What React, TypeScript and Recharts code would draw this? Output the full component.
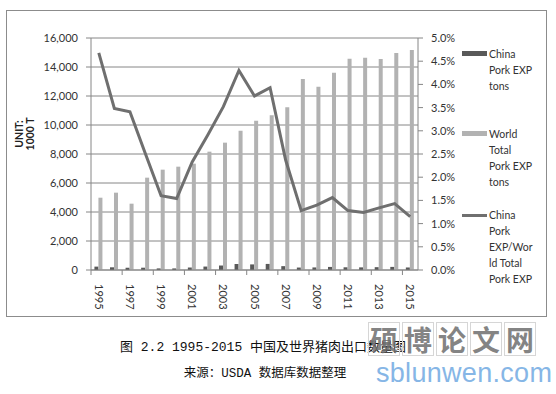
import React from 'react';
import { ComposedChart, Bar, Line, XAxis, YAxis, CartesianGrid } from 'recharts';

const years = ['1995','1996','1997','1998','1999','2000','2001','2002','2003','2004','2005','2006','2007','2008','2009','2010','2011','2012','2013','2014','2015'];
const chinaExp = [233,186,156,159,111,110,171,237,309,413,386,419,266,169,177,212,187,182,195,214,174];
const worldExp = [4986,5333,4574,6368,6920,7126,7333,8161,8782,9609,10299,10667,11218,13172,12644,13609,14575,14644,14552,14966,15172];
const chinaShare = [4.68,3.48,3.41,2.50,1.60,1.54,2.33,2.91,3.52,4.30,3.75,3.93,2.37,1.28,1.40,1.56,1.28,1.24,1.34,1.43,1.15];

const leftTicks = [0,2000,4000,6000,8000,10000,12000,14000,16000];
const rightTicks = [0,0.5,1,1.5,2,2.5,3,3.5,4,4.5,5];

const seriesNames = ['China Pork EXP tons', 'World Total Pork EXP tons', 'China Pork EXP/World Total Pork EXP'];
const legendLines = [
  ['China', 'Pork EXP', 'tons'],
  ['World', 'Total', 'Pork EXP', 'tons'],
  ['China', 'Pork', 'EXP/Wor', 'ld Total', 'Pork EXP'],
];
const yLabel = ['UNIT:', '1000 T'];
const caption1 = '图 2.2 1995-2015 中国及世界猪肉出口数量图';
const caption2 = '来源：USDA 数据库数据整理';
const watermark1 = ['硕', '博', '论', '文', '网'];
const watermark2 = 'sblunwen.com';

const data = years.map((y, i) => ({ year: y, china: chinaExp[i], world: worldExp[i], share: chinaShare[i] }));

const W = 556;
const LEFT_W = 91;
const RIGHT_W = 138;
const PLOT_W = W - LEFT_W - RIGHT_W;
const HALF_BAND = PLOT_W / years.length / 2;

const C_CHINA = '#595959';
const C_WORLD = '#b2b2b2';
const C_LINE = '#6f6f6f';
const C_AXIS = '#868686';
const FONT = 'Lato, "Liberation Sans", sans-serif';

const XTick = (props: any) => {
  const { x, y, payload } = props;
  const idx = payload && payload.index !== undefined ? payload.index : props.index;
  if (idx % 2 !== 0) return <g />;
  return (
    <g>
      <line x1={x - HALF_BAND} x2={x - HALF_BAND} y1={y} y2={y + 5} stroke={C_AXIS} />
      <text
        transform={`translate(${x},${y + 14}) rotate(90)`}
        dy="0.35em"
        textAnchor="start"
        fontSize={11}
        fontFamily={FONT}
        fill="#333"
      >
        {payload.value}
      </text>
    </g>
  );
};

export default function App() {
  return (
    <div style={{ position: 'absolute', left: 0, top: 0, width: 556, height: 394, background: '#fff', overflow: 'hidden' }}>
      <div style={{ position: 'absolute', left: 6, top: 10, width: 539, height: 305, border: '1px solid #8c8c8c' }} />
      <div style={{ position: 'absolute', left: 0, top: 0 }}>
        <ComposedChart
          width={556}
          height={320}
          data={data}
          margin={{ top: 38, right: 0, bottom: 0, left: 0 }}
          barCategoryGap="22%"
          barGap={0}
        >
          <CartesianGrid vertical={false} stroke={C_AXIS} yAxisId="left" />
          <XAxis
            dataKey="year"
            interval={0}
            height={50}
            tickSize={0}
            tickMargin={0}
            tick={<XTick />}
            axisLine={{ stroke: C_AXIS }}
            tickLine={false}
          />
          <YAxis
            yAxisId="left"
            width={LEFT_W}
            domain={[0, 16000]}
            ticks={leftTicks}
            tickFormatter={(v: number) => v.toLocaleString('en-US')}
            tick={{ fontSize: 11, fontFamily: FONT, fill: '#333' }}
            tickSize={5}
            tickMargin={8}
            axisLine={{ stroke: C_AXIS }}
            tickLine={{ stroke: C_AXIS }}
          />
          <YAxis
            yAxisId="right"
            orientation="right"
            width={RIGHT_W}
            domain={[0, 5]}
            ticks={rightTicks}
            tickFormatter={(v: number) => v.toFixed(1) + '%'}
            tick={{ fontSize: 11, fontFamily: FONT, fill: '#333', textAnchor: 'start' }}
            tickSize={5}
            tickMargin={8}
            axisLine={{ stroke: C_AXIS }}
            tickLine={{ stroke: C_AXIS }}
          />
          <Bar yAxisId="left" dataKey="china" name={seriesNames[0]} fill={C_CHINA} isAnimationActive={false} />
          <Bar yAxisId="left" dataKey="world" name={seriesNames[1]} fill={C_WORLD} isAnimationActive={false} />
          <Line
            yAxisId="right"
            dataKey="share"
            name={seriesNames[2]}
            type="linear"
            stroke={C_LINE}
            strokeWidth={3}
            dot={false}
            activeDot={false}
            isAnimationActive={false}
          />
        </ComposedChart>
      </div>

      {/* Y axis title */}
      <div
        style={{
          position: 'absolute', left: 25, top: 136, width: 0, height: 0,
        }}
      >
        <div
          style={{
            position: 'absolute', left: -40, top: -13, width: 80, textAlign: 'center',
            transform: 'rotate(-90deg)', fontFamily: FONT, fontWeight: 'bold', fontSize: 10.5,
            lineHeight: '11px', color: '#222',
          }}
        >
          {yLabel.map((t, i) => <div key={i}>{t}</div>)}
        </div>
      </div>

      {/* Legend */}
      {[
        { top: 46, color: C_CHINA, kind: 'bar' },
        { top: 126, color: C_WORLD, kind: 'bar' },
        { top: 207, color: C_LINE, kind: 'line' },
      ].map((it, i) => (
        <div key={i} style={{ position: 'absolute', left: 462, top: it.top, fontFamily: FONT, fontSize: 10.5, lineHeight: '16px', color: '#333' }}>
          <div
            style={{
              position: 'absolute', left: 0, width: 25,
              top: it.kind === 'bar' ? 5 : 7,
              height: it.kind === 'bar' ? 5 : 3,
              background: it.color,
            }}
          />
          <div style={{ position: 'absolute', left: 27, top: 0, whiteSpace: 'nowrap' }}>
            {legendLines[i].map((t, j) => <div key={j}>{t}</div>)}
          </div>
        </div>
      ))}

      {/* Caption */}
      <div style={{ position: 'absolute', left: 0, top: 340, width: 526, textAlign: 'center', fontFamily: '"Liberation Mono", "Noto Sans CJK SC", monospace', fontSize: 13, color: '#111', lineHeight: '16px' }}>
        {caption1}
      </div>
      <div style={{ position: 'absolute', left: 0, top: 366, width: 530, textAlign: 'center', fontFamily: '"Liberation Mono", "Noto Sans CJK SC", monospace', fontSize: 12.5, color: '#111', lineHeight: '16px' }}>
        {caption2}
      </div>

      {/* Watermark */}
      <div style={{ position: 'absolute', left: 368, top: 322, display: 'flex', gap: 2 }}>
        {watermark1.map((c, i) => (
          <div key={i} style={{ width: 32, height: 34, border: '1px solid #d6d6d6', boxSizing: 'border-box', fontFamily: '"Noto Sans CJK SC", sans-serif', fontWeight: 'bold', fontSize: 28, lineHeight: '32px', textAlign: 'center', color: 'rgba(110,110,110,0.85)' }}>
            {c}
          </div>
        ))}
      </div>
      <div style={{ position: 'absolute', left: 376, top: 357, fontFamily: '"Liberation Sans", Arial, sans-serif', fontSize: 27, color: '#86b6e6', lineHeight: '32px', letterSpacing: 0.3 }}>
        {watermark2}
      </div>
    </div>
  );
}
